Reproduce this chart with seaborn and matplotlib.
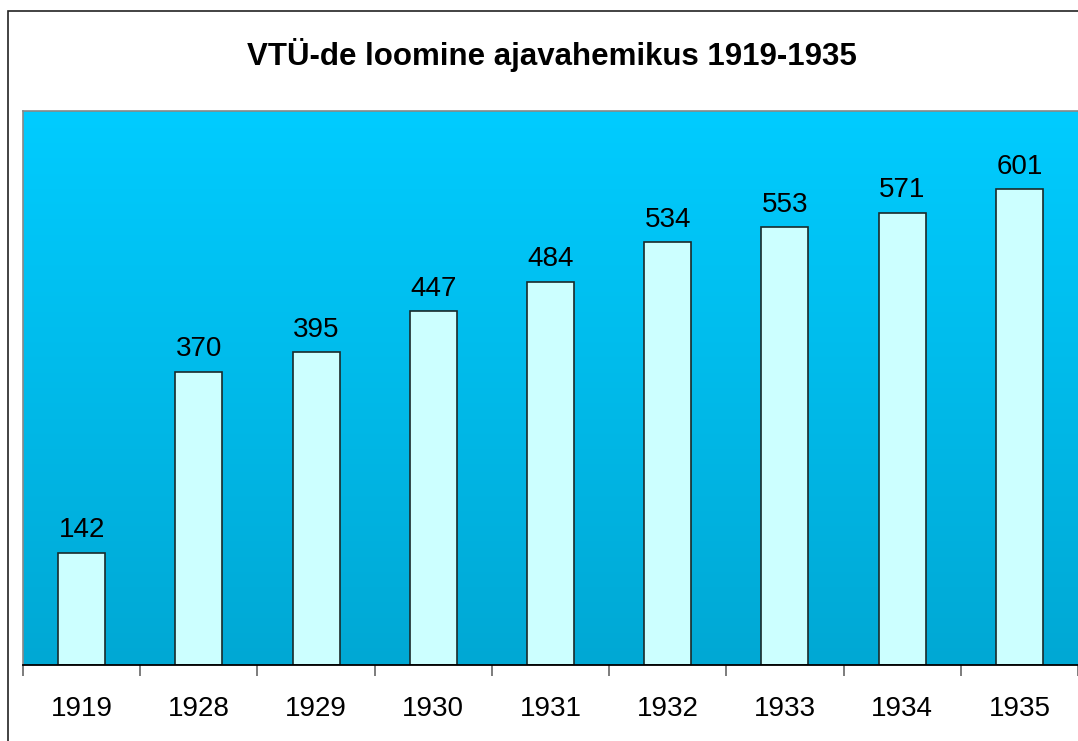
import numpy as np
import pandas as pd
import matplotlib
matplotlib.use("Agg")
import matplotlib.pyplot as plt
from matplotlib.colors import LinearSegmentedColormap
from matplotlib.patches import Rectangle
import seaborn as sns

years = ["1919", "1928", "1929", "1930", "1931", "1932", "1933", "1934", "1935"]
counts = [142, 370, 395, 447, 484, 534, 553, 571, 601]
title = "VTÜ-de loomine ajavahemikus 1919-1935"

sns.set_theme(style="white")
plt.rcParams['font.family'] = ['Liberation Sans', 'DejaVu Sans']

W, H = 1078, 741
fig = plt.figure(figsize=(W / 100, H / 100), dpi=100)
fig.patch.set_facecolor("white")

# outer chart border (only top/left visible)
fig.patches.append(Rectangle((8 / W, -0.1), 1.2, (H - 11) / H + 0.1, transform=fig.transFigure,
                             fill=False, edgecolor="#222222", linewidth=1.2, zorder=0))

ax = fig.add_axes([23 / W, (H - 665) / H, (1078 - 23) / W, (665 - 111) / H])

df = pd.DataFrame({"year": years, "count": counts})
ymax = 700

# gradient background
cmap = LinearSegmentedColormap.from_list("bg", ["#00A8D4", "#00CCFF"])
grad = np.linspace(0, 1, 256).reshape(-1, 1)
ax.imshow(grad, cmap=cmap, aspect="auto", origin="lower",
          extent=[-0.5, len(years) - 0.5, 0, ymax], zorder=0)

sns.barplot(data=df, x="year", y="count", ax=ax, width=0.4,
            color="#CCFFFF", edgecolor="#1a2a2a", linewidth=1.2, saturation=1, zorder=2)

ax.set_xlim(-0.5, len(years) - 0.5)
ax.set_ylim(0, ymax)
ax.set_xlabel("")
ax.set_ylabel("")
ax.set_yticks([])

for i, v in enumerate(counts):
    ax.annotate(str(v), (i, v), xytext=(0, 7), textcoords="offset points",
                ha="center", va="bottom", fontsize=20, color="black", zorder=3)

# category boundary ticks
ax.set_xticks(np.arange(len(years)))
ax.set_xticklabels(years, fontsize=20, color="black")
ax.set_xticks(np.arange(len(years) + 1) - 0.5, minor=True)
ax.tick_params(axis="x", which="major", length=0, pad=22, labelcolor="black")
ax.tick_params(axis="x", which="minor", length=8, width=1.2, color="#666666", direction="out")
ax.xaxis.set_ticks_position("bottom")

for s in ["top", "left", "right"]:
    ax.spines[s].set_color("#888888")
    ax.spines[s].set_linewidth(1.2)
ax.spines["right"].set_visible(False)
ax.spines["bottom"].set_color("black")
ax.spines["bottom"].set_linewidth(1.3)

fig.text(552 / W, 1 - 55 / H, title, ha="center", va="center",
         fontsize=22.5, fontweight="bold", color="black")

fig.savefig("out.png", dpi=100)
